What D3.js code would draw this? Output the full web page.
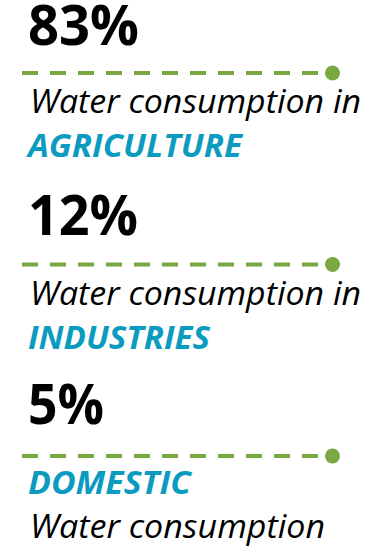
<!DOCTYPE html>
<html>
<head>
<meta charset="utf-8">
<script src="https://cdn.jsdelivr.net/npm/d3@7"></script>
<style>
  html, body { margin: 0; padding: 0; background: #ffffff; }
  svg { display: block; }
  text { font-family: "Open Sans", "Noto Sans", sans-serif; }
</style>
</head>
<body>
<svg id="chart" width="384" height="549"></svg>
<script>
// ---- data ----
const categories   = ["AGRICULTURE", "INDUSTRIES", "DOMESTIC"];
const values       = [83, 12, 5];
const captions     = ["Water consumption in", "Water consumption in", "Water consumption"];
const categoryFirst = [false, false, true];

// ---- layout ----
const svg = d3.select("#chart");
const green = "#79a843";
const teal  = "#0b9bc0";

const fmt = d => d3.format("d")(d) + "%";

// vertical position of each block (dashed rule y)
const y = d3.scalePoint().domain(categories).range([73, 456]);
// horizontal extent of the rule
const x = d3.scaleLinear().domain([0, 1]).range([22, 318]);

const rows = categories.map((c, i) => ({
  cat: c, value: values[i], caption: captions[i], catFirst: categoryFirst[i]
}));

const g = svg.selectAll("g.block").data(rows).join("g")
  .attr("class", "block")
  .attr("transform", d => `translate(0,${y(d.cat)})`);

// big number
const numLen = { 83: 111, 12: 110, 5: 76 };
g.append("text")
  .attr("x", 28)
  .attr("y", (d, i) => i === 2 ? -32 : (i === 1 ? -30 : -28))
  .attr("font-size", 56)
  .attr("font-weight", 700)
  .attr("fill", "#000")
  .attr("textLength", d => numLen[d.value])
  .attr("lengthAdjust", "spacingAndGlyphs")
  .text(d => fmt(d.value));

// dashed rule
g.append("line")
  .attr("x1", x(0)).attr("x2", x(1))
  .attr("y1", 0).attr("y2", 0)
  .attr("stroke", green)
  .attr("stroke-width", 4)
  .attr("stroke-dasharray", "16,12");

// end dot
g.append("circle")
  .attr("cx", x(1) + 14.5)
  .attr("cy", 0)
  .attr("r", 7.5)
  .attr("fill", green);

// caption + category lines
const line1 = 40, line2 = 85;
g.append("text")
  .attr("x", 30)
  .attr("y", d => d.catFirst ? line2 - 4 + 1 : line1)
  .attr("font-size", 32)
  .attr("font-style", "italic")
  .attr("fill", "#000")
  .attr("textLength", d => d.caption.length > 18 ? 331 : 295)
  .attr("lengthAdjust", "spacingAndGlyphs")
  .text(d => d.caption);

const catLen = { AGRICULTURE: 214, INDUSTRIES: 182, DOMESTIC: 163 };
g.append("text")
  .attr("x", 28)
  .attr("y", d => d.catFirst ? line1 - 3 + 1 : line2 - 1)
  .attr("font-size", 32)
  .attr("font-style", "italic")
  .attr("font-weight", 700)
  .attr("fill", teal)
  .attr("textLength", d => catLen[d.cat])
  .attr("lengthAdjust", "spacingAndGlyphs")
  .text(d => d.cat);
</script>
</body>
</html>
